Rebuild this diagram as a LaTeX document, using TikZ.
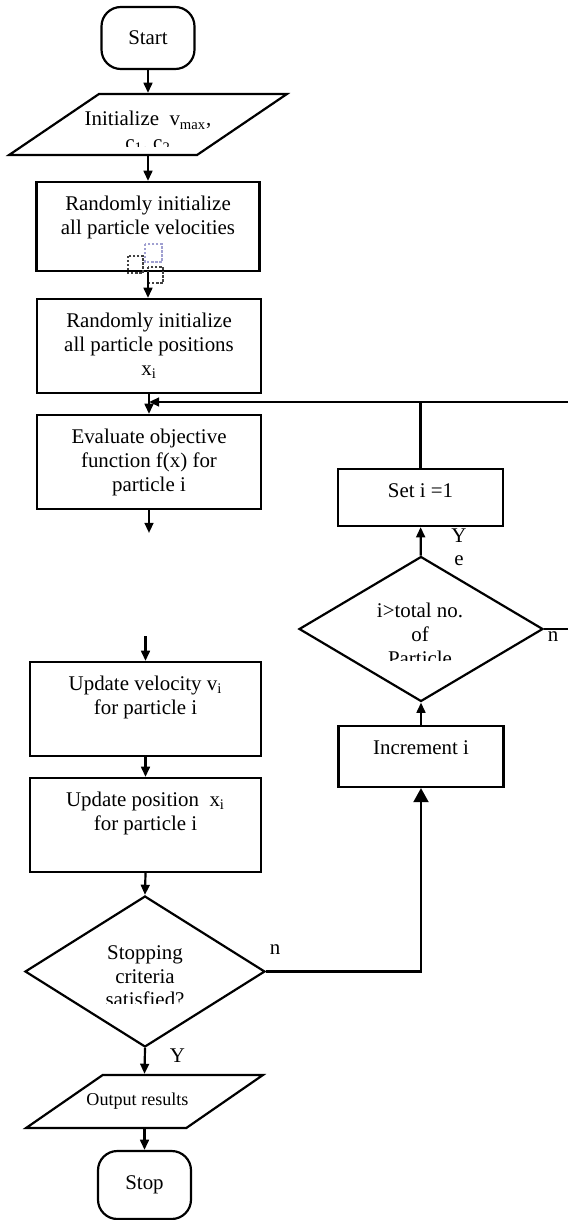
\documentclass[tikz,border=0pt]{standalone}
\usepackage{fontspec}
\setmainfont{Liberation Serif}
\usetikzlibrary{arrows.meta,shapes.geometric}
\tikzset{
  arr/.style={-{Triangle[length=5.8pt,width=5pt]}, line width=1.25pt},
  arrbig/.style={-{Triangle[length=8pt,width=8.5pt]}, line width=1.25pt},
  lnthin/.style={line width=0.8pt},
  txt/.style={inner sep=0pt, align=center, font=\fontsize{11.9}{13.6}\selectfont},
  smalltxt/.style={txt, font=\fontsize{10.3}{12}\selectfont},
  box/.style={draw, line width=1.25pt, inner sep=0pt, minimum width=4.48cm, minimum height=1.88cm},
  boxtext/.style={label={[txt, anchor=north, yshift=-0.3cm]north:{#1}}},
  term/.style={txt, draw, line width=1.25pt, rounded corners=11pt, minimum width=1.86cm},
  io/.style={trapezium, trapezium left angle=47.5, trapezium right angle=132.5, trapezium stretches=true, draw, line width=1.25pt, inner sep=2pt},
  dec/.style={diamond, draw, line width=1.25pt, inner sep=2pt},
  iconbox/.style={densely dotted, line width=1.3pt, draw=black!75}
}
\begin{document}
\begin{tikzpicture}[x=0.02cm,y=-0.02cm]
  \useasboundingbox (0,0) rectangle (568,1220);

  \node[term, minimum height=1.24cm] (start) at (148,38) {Start};
  \node[io, minimum width=5.56cm, minimum height=1.22cm] (init) at (148,124.5) {};
  \begin{scope}
    \clip (0,96) rectangle (568,146);
    \node[txt, anchor=north] (inittxt) at (148,111) {Initialize\ \ v\textsubscript{max},\\c\textsubscript{1}, c\textsubscript{2}};
  \end{scope}
  \node[box, minimum width=4.46cm, minimum height=1.78cm, boxtext={Randomly initialize\\all particle velocities}] (randvel) at (148,226.5) {};
  \draw[iconbox] (128,256) rectangle (143,273);
  \draw[iconbox, draw=blue!35!gray!55] (145,244) rectangle (162,262);
  \draw[iconbox] (148,267) rectangle (163,283);
  \node[box, boxtext={Randomly initialize\\all particle positions\\x\textsubscript{i}}] (randpos) at (149,346) {};
  \node[box, boxtext={Evaluate objective\\function f(x) for\\particle i}] (eval) at (149,462) {};
  \coordinate (loopin) at (149,402);
  \coordinate (loopR) at (568,402);
  \coordinate (evalout) at (149,533);
  \coordinate (updin) at (145.5,636);

  \node[box, minimum width=4.62cm, boxtext={Update velocity v\textsubscript{i}\\for particle i}] (updvel) at (145.5,709) {};
  \node[box, minimum width=4.62cm, boxtext={Update position\ \ x\textsubscript{i}\\for particle i}] (updpos) at (145.5,825) {};
  \node[dec, minimum width=4.8cm, minimum height=3.02cm] (stopq) at (145,971.5) {};
  \begin{scope}
    \clip (0,900) rectangle (568,1003);
    \node[txt, anchor=north] (stopqtxt) at (145,945) {Stopping\\criteria\\satisfied?};
  \end{scope}
  \node[io, minimum width=4.74cm, minimum height=1.06cm, label={[smalltxt, xshift=-0.14cm]center:Output results}] (output) at (144.5,1101.5) {};
  \node[term, minimum height=1.36cm] (stop) at (144.5,1185) {Stop};

  \node[box, minimum width=3.3cm, minimum height=1.14cm, boxtext={Set i =1}] (seti) at (420.5,497.5) {};
  \node[dec, minimum width=4.88cm, minimum height=2.9cm] (totalq) at (421,629) {};
  \begin{scope}
    \clip (0,560) rectangle (568,660);
    \node[txt, anchor=north] (totalqtxt) at (420,603) {i>total no.\\of\\Particle};
  \end{scope}
  \node[box, minimum width=3.3cm, minimum height=1.22cm, boxtext={Increment i}] (incr) at (421,756.5) {};
  \coordinate (exitR) at (568,629);

  \node[txt] (nstop) at (275,950) {n};
  \node[txt] (ystop) at (177.5,1056) {Y};
  \node[txt] (ntotal) at (553,637) {n};
  \node[txt, anchor=north] (ytotal) at (459,528) {Y\\e};

  \draw[arr] (start.south) -- (init.north);
  \draw[arr] (init.south) -- (randvel.north);
  \draw[arr] (randvel.south) -- (randvel.south |- randpos.north);
  \draw[arr] (randpos.south) -- (eval.north);
  \draw[arr] (eval.south) -- (evalout);
  \draw[arr] (updin) -- (updvel.north);
  \draw[arr] (updvel) -- (updpos);
  \draw[arr] (updpos.south) -- (stopq.north);
  \draw[arr] (stopq.south) -- (output.north);
  \draw[arr] (output.south) -- (stop.north);
  \draw[arrbig] (stopq.east) -| (incr.south);
  \draw[arr] (incr) -- (totalq);
  \draw[arr] (totalq) -- (seti);
  \draw[arr] (seti.north) |- (loopin);
  \draw[lnthin] (seti.north |- loopin) -- (loopR);
  \draw[lnthin] (totalq.east) -- (exitR);
\end{tikzpicture}
\end{document}
